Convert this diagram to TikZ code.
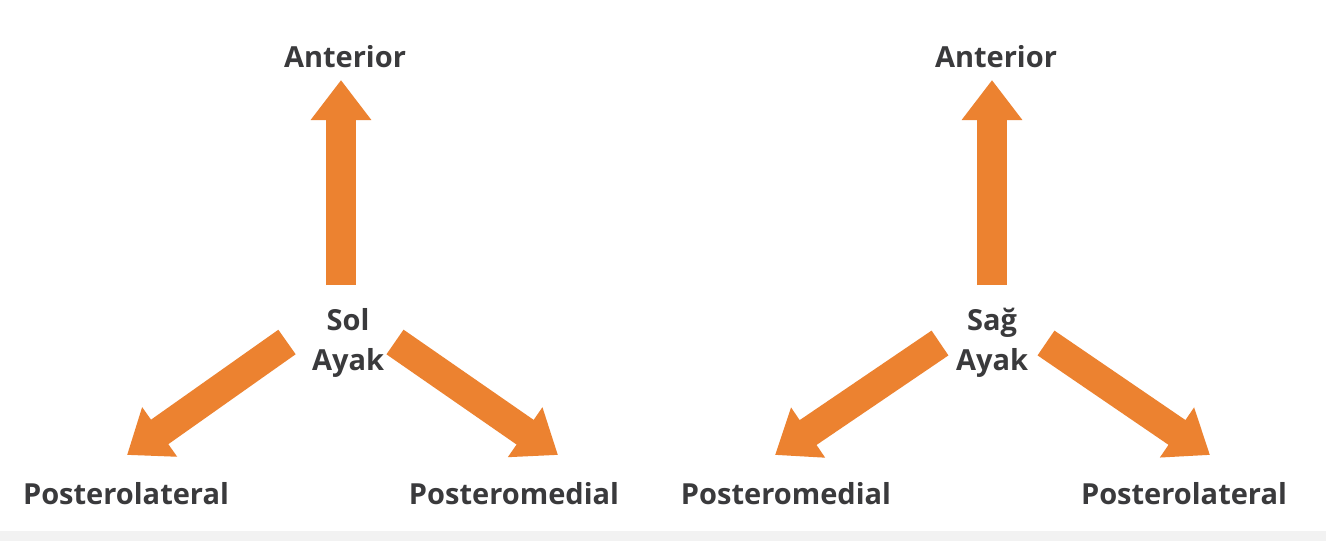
\documentclass[tikz,border=0pt]{standalone}
\usepackage{fontspec}
\setmainfont{Open Sans}
\usetikzlibrary{arrows.meta}
\definecolor{arroworange}{RGB}{236,130,48}
\definecolor{labelgray}{RGB}{58,58,60}
\definecolor{stripgray}{RGB}{242,242,242}
\tikzset{
  fatarrow/.style={draw=arroworange, line width=30pt, line cap=butt,
    -{Triangle[width=58pt,length=40pt,fill=arroworange]}},
  lbl/.style={text=labelgray, font=\fontsize{29}{40}\selectfont\bfseries, inner sep=0pt, align=center},
}
\begin{document}
\begin{tikzpicture}[x=1pt,y=-1pt]
\useasboundingbox (0,0) rectangle (1326,541);
\fill[white] (0,0) rectangle (1326,541);
\fill[stripgray] (0,531) rectangle (1326,541);

% Left diagram
\node[lbl] (solc) at (348,343) {Sol\\Ayak};
\node[lbl] (antL) at (345,57) {Anterior};
\node[lbl] (plL) at (126,494) {Posterolateral};
\node[lbl] (pmL) at (514,494) {Posteromedial};
\coordinate (solUp) at (341,285);
\coordinate (solUpTip) at (341,80);
\coordinate (solLeft) at (287,342);
\coordinate (solLeftTip) at (127,455);
\coordinate (solRight) at (395,342);
\coordinate (solRightTip) at (558,455);
\draw[fatarrow] (solUp) -- (solUpTip);
\draw[fatarrow] (solLeft) -- (solLeftTip);
\draw[fatarrow] (solRight) -- (solRightTip);

% Right diagram
\node[lbl] (sagc) at (992,343) {Sağ\\Ayak};
\node[lbl] (antR) at (996,57) {Anterior};
\node[lbl] (pmR) at (786,494) {Posteromedial};
\node[lbl] (plR) at (1184,494) {Posterolateral};
\coordinate (sagUp) at (992,285);
\coordinate (sagUpTip) at (992,80);
\coordinate (sagLeft) at (940,343);
\coordinate (sagLeftTip) at (775,455);
\coordinate (sagRight) at (1046,343);
\coordinate (sagRightTip) at (1210,455);
\draw[fatarrow] (sagUp) -- (sagUpTip);
\draw[fatarrow] (sagLeft) -- (sagLeftTip);
\draw[fatarrow] (sagRight) -- (sagRightTip);
\end{tikzpicture}
\end{document}
